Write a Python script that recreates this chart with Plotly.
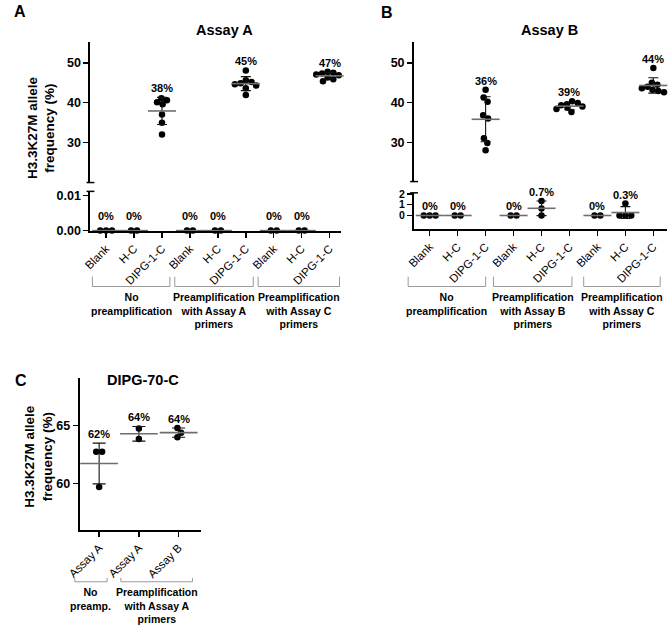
import numpy as np
import plotly.graph_objects as go

W, H = 669, 628
FONT = "Liberation Sans, Arial, sans-serif"

# ------------------------------------------------------------------ data
A_categories = ["Blank", "H-C", "DIPG-1-C", "Blank", "H-C", "DIPG-1-C", "Blank", "H-C", "DIPG-1-C"]
A_blank_np = [0, 0, 0]
A_hc_np = [0, 0]
A_dipg_np = [41.1, 40.6, 40.1, 39.6, 37.0, 34.9, 32.0]
A_blank_pa = [0, 0]
A_hc_pa = [0, 0]
A_dipg_pa = [48.1, 45.6, 45.2, 44.9, 44.6, 44.3, 43.6, 41.9]
A_blank_pc = [0, 0]
A_hc_pc = [0, 0]
A_dipg_pc = [47.8, 47.5, 47.3, 47.1, 46.9, 46.6, 46.3, 45.9, 45.4]
A_labels = ["0%", "0%", "38%", "0%", "0%", "45%", "0%", "0%", "47%"]
A_groups = ["No<br>preamplification",
            "Preamplification<br>with Assay A<br>primers",
            "Preamplification<br>with Assay C<br>primers"]

B_categories = ["Blank", "H-C", "DIPG-1-C", "Blank", "H-C", "DIPG-1-C", "Blank", "H-C", "DIPG-1-C"]
B_blank_np = [0, 0, 0]
B_hc_np = [0, 0]
B_dipg_np = [43.2, 41.3, 40.2, 36.8, 36.0, 31.0, 29.8, 28.0]
B_blank_pb = [0, 0]
B_hc_pb = [1.35, 0.65, 0.0]
B_dipg_pb = [40.3, 39.9, 39.6, 39.3, 39.0, 38.7, 38.4, 37.6]
B_blank_pc = [0, 0]
B_hc_pc = [1.1, 0, 0, 0]
B_dipg_pc = [48.7, 45.0, 44.5, 44.0, 43.6, 43.2, 42.9, 42.6]
B_labels = ["0%", "0%", "36%", "0%", "0.7%", "39%", "0%", "0.3%", "44%"]
B_groups = ["No<br>preamplification",
            "Preamplification<br>with Assay B<br>primers",
            "Preamplification<br>with Assay C<br>primers"]

C_categories = ["Assay A", "Assay A", "Assay B"]
C_np_a = [62.75, 62.75, 59.7]
C_pa_a = [64.75, 63.85]
C_pa_b = [64.8, 64.4, 64.0]
C_labels = ["62%", "64%", "64%"]
C_groups = ["No<br>preamp.", "Preamplification<br>with Assay A<br>primers"]

Y_TITLE = "H3.3K27M allele<br>frequency (%)"


# ------------------------------------------------------------------ helpers
def X(px):
    return px / W


def Y(py):
    return 1 - py / H


def swarm(values, py_scale, px_scale, d=6.0):
    """beeswarm offsets (in x data units) computed in pixel space"""
    v = np.asarray(values, float) * py_scale
    n = len(v)
    xs = np.full(n, np.nan)
    for i in np.argsort(-v, kind="stable"):
        placed = [j for j in range(n) if not np.isnan(xs[j])]
        cands = [0.0]
        for j in placed:
            dy = abs(v[i] - v[j])
            if dy < d:
                dx = np.sqrt(d * d - dy * dy)
                cands += [xs[j] + dx, xs[j] - dx]
        cands.sort(key=lambda c: (round(abs(c), 6), -c))
        for c in cands:
            if all((c - xs[j]) ** 2 + (v[i] - v[j]) ** 2 >= d * d - 1e-6 for j in placed):
                xs[i] = c
                break
    parent = list(range(n))

    def find(a):
        while parent[a] != a:
            a = parent[a]
        return a
    for i in range(n):
        for j in range(i + 1, n):
            if (xs[i] - xs[j]) ** 2 + (v[i] - v[j]) ** 2 <= (d * 1.02) ** 2:
                parent[find(i)] = find(j)
    comps = {}
    for i in range(n):
        comps.setdefault(find(i), []).append(i)
    for idx in comps.values():
        m = np.mean(xs[idx])
        xs[idx] -= m
    return xs / px_scale


fig = go.Figure()
annotations = []
shapes = []


def add_axis_pair(xname, yname, xdom, ydom, xr, yr, show_x, ytickvals=None, yticktext=None,
                  xcats=None, xpos=None, ysize=12.5):
    xa = dict(domain=[X(xdom[0]), X(xdom[1])], range=xr, anchor=yname.replace("axis", ""),
              showgrid=False, zeroline=False, fixedrange=True)
    if show_x:
        xa.update(showline=True, linewidth=2, linecolor="black", ticks="outside", ticklen=5,
                  tickwidth=1.5, tickcolor="black", tickvals=xpos, ticktext=xcats,
                  tickangle=-45, tickfont=dict(family=FONT, size=11.5, color="black"))
    else:
        xa.update(visible=False)
    ya = dict(domain=[Y(ydom[1]), Y(ydom[0])], range=yr, anchor=xname.replace("axis", ""),
              showgrid=False, zeroline=False, showline=True, linewidth=2, linecolor="black",
              ticks="outside", ticklen=5, tickwidth=1.5, tickcolor="black",
              tickvals=ytickvals, ticktext=yticktext, fixedrange=True,
              tickfont=dict(family=FONT, size=ysize, color="black", weight="bold"))
    fig.layout[xname] = xa
    fig.layout[yname] = ya


def scales(xdom, ydom, xr, yr):
    return (ydom[1] - ydom[0]) / (yr[1] - yr[0]), (xdom[1] - xdom[0]) / (xr[1] - xr[0])


def draw_groups(groups, labels, axes, mean_size, cap):
    for k, (vals, sec) in enumerate(groups):
        xref, yref, py, pxs, shift = axes[sec]
        off = swarm(vals, py, pxs)
        xs = k + off
        fig.add_trace(go.Scatter(x=xs, y=vals, xaxis=xref, yaxis=yref, mode="markers",
                                 marker=dict(size=6.5, color="black"), cliponaxis=False,
                                 hoverinfo="skip"))
        m = float(np.mean(vals))
        sd = float(np.std(vals, ddof=1)) if len(vals) > 1 else 0.0
        fig.add_trace(go.Scatter(x=[k], y=[m], xaxis=xref, yaxis=yref, mode="markers",
                                 marker=dict(symbol="line-ew", size=mean_size,
                                             line=dict(color="#6e6e6e", width=1.6)),
                                 error_y=dict(type="data", array=[sd], visible=True,
                                              color="#111111", thickness=1.1, width=cap),
                                 cliponaxis=False, hoverinfo="skip"))
        top = max(max(vals), m + sd)
        annotations.append(dict(x=k, y=top, xref=xref, yref=yref, text="<b>%s</b>" % labels[k],
                                showarrow=False, yanchor="middle", yshift=shift,
                                font=dict(family=FONT, size=11, color="black")))


def bracket(x1, x2, ytop, ybot):
    shapes.append(dict(type="path", xref="paper", yref="paper",
                       path="M %f,%f L %f,%f L %f,%f L %f,%f" % (X(x1), Y(ytop), X(x1), Y(ybot),
                                                                  X(x2), Y(ybot), X(x2), Y(ytop)),
                       line=dict(color="#9a9a9a", width=1)))


def cap_mark(xp, yp):
    shapes.append(dict(type="line", xref="paper", yref="paper", x0=X(xp - 4), x1=X(xp + 4),
                       y0=Y(yp), y1=Y(yp), line=dict(color="black", width=1.5)))


def text(xp, yp, s, size, angle=0):
    annotations.append(dict(x=X(xp), y=Y(yp), xref="paper", yref="paper", text=s, showarrow=False,
                            textangle=angle, xanchor="center", yanchor="middle",
                            font=dict(family=FONT, size=size, color="black", weight="bold")))


def group_labels(spans, labels, ytop, ybot, ytext):
    for (x1, x2), g in zip(spans, labels):
        bracket(x1, x2, ytop, ybot)
        annotations.append(dict(x=X((x1 + x2) / 2), y=Y(ytext), xref="paper", yref="paper", text=g,
                                showarrow=False, yanchor="top", xanchor="center",
                                font=dict(family=FONT, size=10.5, color="black", weight="bold")))


# ------------------------------------------------------------------ panel A
A_xd = (79, 334)
A_xr = [-0.56, 8.39]
A_pos = list(range(len(A_categories)))
A_low_yd, A_low_yr = (190, 230), [0, 0.0111]
A_up_yd, A_up_yr = (38, 181), [19.88, 55.19]
add_axis_pair("xaxis", "yaxis", A_xd, A_low_yd, A_xr, A_low_yr, True, xcats=A_categories, xpos=A_pos,
              ytickvals=[0, 0.01], yticktext=["0.00", "0.01"])
add_axis_pair("xaxis2", "yaxis2", A_xd, A_up_yd, A_xr, A_up_yr, False,
              ytickvals=[30, 40, 50], yticktext=["30", "40", "50"])
pyL, pxA = scales(A_xd, A_low_yd, A_xr, A_low_yr)
pyU, _ = scales(A_xd, A_up_yd, A_xr, A_up_yr)
A_sets = [(A_blank_np, "lo"), (A_hc_np, "lo"), (A_dipg_np, "up"),
          (A_blank_pa, "lo"), (A_hc_pa, "lo"), (A_dipg_pa, "up"),
          (A_blank_pc, "lo"), (A_hc_pc, "lo"), (A_dipg_pc, "up")]
draw_groups(A_sets, A_labels, {"lo": ("x", "y", pyL, pxA, 15), "up": ("x2", "y2", pyU, pxA, 9)}, 20, 5)
cap_mark(79, 181)
cap_mark(79, 190)
group_labels([(81, 160), (165, 245), (250, 333)], A_groups, 277, 287, 290)
text(7, 7, "A", 16)
text(216, 25, "Assay A", 14.5)
text(29, 125, Y_TITLE, 13.5, angle=-90)

# ------------------------------------------------------------------ panel B
B_xd = (409, 667)
B_xr = [-0.56, 8.49]
B_pos = list(range(len(B_categories)))
B_low_yd, B_low_yr = (191.5, 228), [-1.22, 2.1]
B_up_yd, B_up_yr = (38, 180), [20.1, 55.19]
add_axis_pair("xaxis3", "yaxis3", B_xd, B_low_yd, B_xr, B_low_yr, True, xcats=B_categories, xpos=B_pos,
              ytickvals=[0, 1, 2], yticktext=["0", "1", "2"], ysize=10.5)
add_axis_pair("xaxis4", "yaxis4", B_xd, B_up_yd, B_xr, B_up_yr, False,
              ytickvals=[30, 40, 50], yticktext=["30", "40", "50"])
pyLB, pxB = scales(B_xd, B_low_yd, B_xr, B_low_yr)
pyUB, _ = scales(B_xd, B_up_yd, B_xr, B_up_yr)
B_sets = [(B_blank_np, "lo"), (B_hc_np, "lo"), (B_dipg_np, "up"),
          (B_blank_pb, "lo"), (B_hc_pb, "lo"), (B_dipg_pb, "up"),
          (B_blank_pc, "lo"), (B_hc_pc, "lo"), (B_dipg_pc, "up")]
draw_groups(B_sets, B_labels, {"lo": ("x3", "y3", pyLB, pxB, 9), "up": ("x4", "y4", pyUB, pxB, 9)}, 20, 5)
cap_mark(409, 180)
cap_mark(409, 191.5)
group_labels([(403, 482), (490, 570), (582, 660)], B_groups, 277, 287, 290)
text(381, 8, "B", 16)
text(547, 25, "Assay B", 14.5)

# ------------------------------------------------------------------ panel C
C_xd = (68, 192)
C_xr = [-0.49, 2.57]
C_pos = list(range(len(C_categories)))
C_yd, C_yr = (380, 535), [56.0, 69.15]
add_axis_pair("xaxis5", "yaxis5", C_xd, C_yd, C_xr, C_yr, True, xcats=C_categories, xpos=C_pos,
              ytickvals=[60, 65], yticktext=["60", "65"])
pyC, pxC = scales(C_xd, C_yd, C_xr, C_yr)
C_sets = [(C_np_a, "c"), (C_pa_a, "c"), (C_pa_b, "c")]
draw_groups(C_sets, C_labels, {"c": ("x5", "y5", pyC, pxC, 9)}, 27, 6.5)
group_labels([(63, 96), (110, 183)], C_groups, 584, 588, 590)
text(8, 383, "C", 16)
text(133, 382, "DIPG-70-C", 14.5)
text(26, 460, Y_TITLE, 13.5, angle=-90)

fig.update_layout(width=W, height=H, margin=dict(l=0, r=0, t=0, b=0), showlegend=False,
                  paper_bgcolor="white", plot_bgcolor="white",
                  annotations=annotations, shapes=shapes,
                  font=dict(family=FONT, color="black"))
fig.write_html("out.html", config={"displayModeBar": False, "staticPlot": True},
               post_script="document.body.style.margin='0';document.body.style.padding='0';"
                           "document.body.style.overflow='hidden';")
